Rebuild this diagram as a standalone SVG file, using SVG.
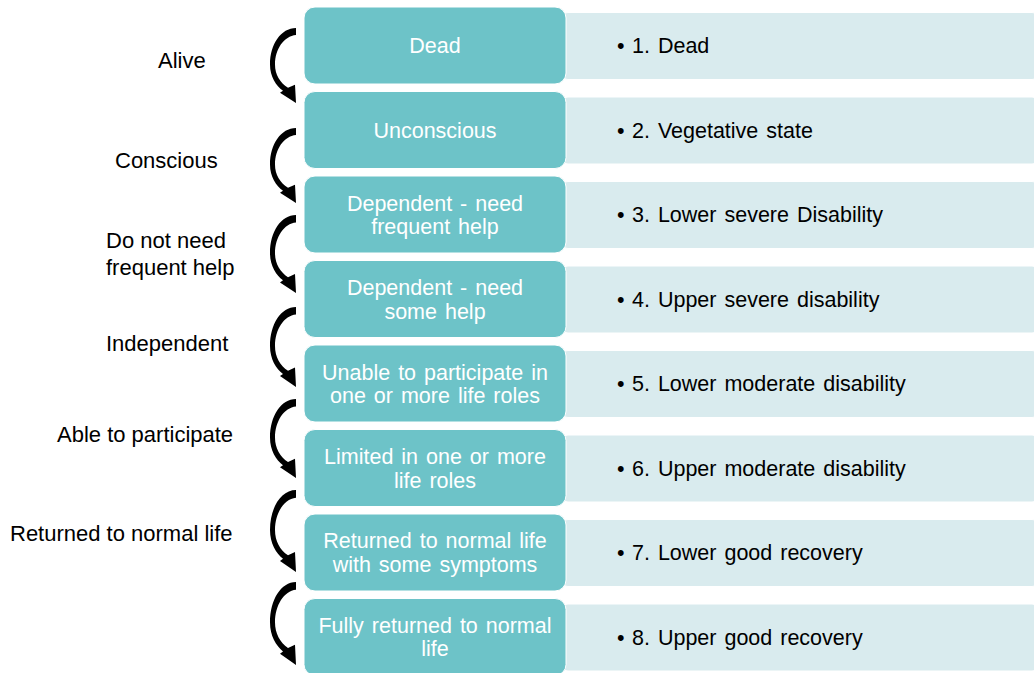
<svg xmlns="http://www.w3.org/2000/svg" xmlns:xlink="http://www.w3.org/1999/xlink" width="1034" height="673" viewBox="0 0 1034 673">
<style>
.teal{fill:#6DC3C8;stroke:#ffffff;stroke-width:1}
.light{fill:#D9EBEE;stroke:#ffffff;stroke-width:1}
.tt{font-family:"Liberation Sans",Arial,sans-serif;font-size:21.5px;fill:#ffffff;text-anchor:middle;word-spacing:2px}
.rt{font-family:"Liberation Sans",Arial,sans-serif;font-size:21.5px;fill:#000000;word-spacing:2px}
.lt{font-family:"Liberation Sans",Arial,sans-serif;font-size:22px;fill:#000000}
.arr{fill:#000000}
</style>
<defs>
<path id="arrow" d="M296,0 C281,0 270,16 270,36 C270,48 276,57 283,62 L280,64 L296,74 L295,56 L288,59 C280,54 275,46 275,36 C275,21 284,8 296,7 Z"/>
</defs>
<rect width="1034" height="673" fill="#ffffff"/>

<g id="labels">
<text class="lt" x="158" y="68">Alive</text>
<text class="lt" x="115" y="168">Conscious</text>
<text class="lt" x="106" y="248">Do not need</text>
<text class="lt" x="106" y="275">frequent help</text>
<text class="lt" x="106" y="351">Independent</text>
<text class="lt" x="57" y="442">Able to participate</text>
<text class="lt" x="10" y="541">Returned to normal life</text>
</g>

<g id="node1">
<rect class="light" x="560" y="12.5" width="480" height="67" rx="8"/>
<rect class="teal" x="304" y="7" width="262" height="77" rx="11"/>
<text class="tt" x="435" y="53">Dead</text>
<text class="rt" y="53"><tspan x="617">•</tspan><tspan x="632">1. Dead</tspan></text>
</g>
<g id="node2">
<rect class="light" x="560" y="97" width="480" height="67" rx="8"/>
<rect class="teal" x="304" y="91.5" width="262" height="77" rx="11"/>
<text class="tt" x="435" y="137.5">Unconscious</text>
<text class="rt" y="137.5"><tspan x="617">•</tspan><tspan x="632">2. Vegetative state</tspan></text>
</g>
<g id="node3">
<rect class="light" x="560" y="181.5" width="480" height="67" rx="8"/>
<rect class="teal" x="304" y="176" width="262" height="77" rx="11"/>
<text class="tt" x="435" y="210.5">Dependent - need</text>
<text class="tt" x="435" y="234">frequent help</text>
<text class="rt" y="222"><tspan x="617">•</tspan><tspan x="632">3. Lower severe Disability</tspan></text>
</g>
<g id="node4">
<rect class="light" x="560" y="266" width="480" height="67" rx="8"/>
<rect class="teal" x="304" y="260.5" width="262" height="77" rx="11"/>
<text class="tt" x="435" y="295">Dependent - need</text>
<text class="tt" x="435" y="318.5">some help</text>
<text class="rt" y="306.5"><tspan x="617">•</tspan><tspan x="632">4. Upper severe disability</tspan></text>
</g>
<g id="node5">
<rect class="light" x="560" y="350.5" width="480" height="67" rx="8"/>
<rect class="teal" x="304" y="345" width="262" height="77" rx="11"/>
<text class="tt" x="435" y="379.5">Unable to participate in</text>
<text class="tt" x="435" y="403">one or more life roles</text>
<text class="rt" y="391"><tspan x="617">•</tspan><tspan x="632">5. Lower moderate disability</tspan></text>
</g>
<g id="node6">
<rect class="light" x="560" y="435" width="480" height="67" rx="8"/>
<rect class="teal" x="304" y="429.5" width="262" height="77" rx="11"/>
<text class="tt" x="435" y="464">Limited in one or more</text>
<text class="tt" x="435" y="487.5">life roles</text>
<text class="rt" y="475.5"><tspan x="617">•</tspan><tspan x="632">6. Upper moderate disability</tspan></text>
</g>
<g id="node7">
<rect class="light" x="560" y="519.5" width="480" height="67" rx="8"/>
<rect class="teal" x="304" y="514" width="262" height="77" rx="11"/>
<text class="tt" x="435" y="548">Returned to normal life</text>
<text class="tt" x="435" y="572">with some symptoms</text>
<text class="rt" y="560"><tspan x="617">•</tspan><tspan x="632">7. Lower good recovery</tspan></text>
</g>
<g id="node8">
<rect class="light" x="560" y="604" width="480" height="67" rx="8"/>
<rect class="teal" x="304" y="598.5" width="262" height="77" rx="11"/>
<text class="tt" x="435" y="633">Fully returned to normal</text>
<text class="tt" x="435" y="656">life</text>
<text class="rt" y="644.5"><tspan x="617">•</tspan><tspan x="632">8. Upper good recovery</tspan></text>
</g>

<g id="connectors" class="arr">
<use xlink:href="#arrow" href="#arrow" transform="translate(0,28) scale(1,1.013)"/>
<use xlink:href="#arrow" href="#arrow" transform="translate(0,128) scale(1,1.013)"/>
<use xlink:href="#arrow" href="#arrow" transform="translate(0,215) scale(1,1.054)"/>
<use xlink:href="#arrow" href="#arrow" transform="translate(0,307) scale(1,1.08)"/>
<use xlink:href="#arrow" href="#arrow" transform="translate(0,399) scale(1,1.067)"/>
<use xlink:href="#arrow" href="#arrow" transform="translate(0,490) scale(1,1.108)"/>
<use xlink:href="#arrow" href="#arrow" transform="translate(0,582) scale(1,1.12)"/>
</g>
</svg>
